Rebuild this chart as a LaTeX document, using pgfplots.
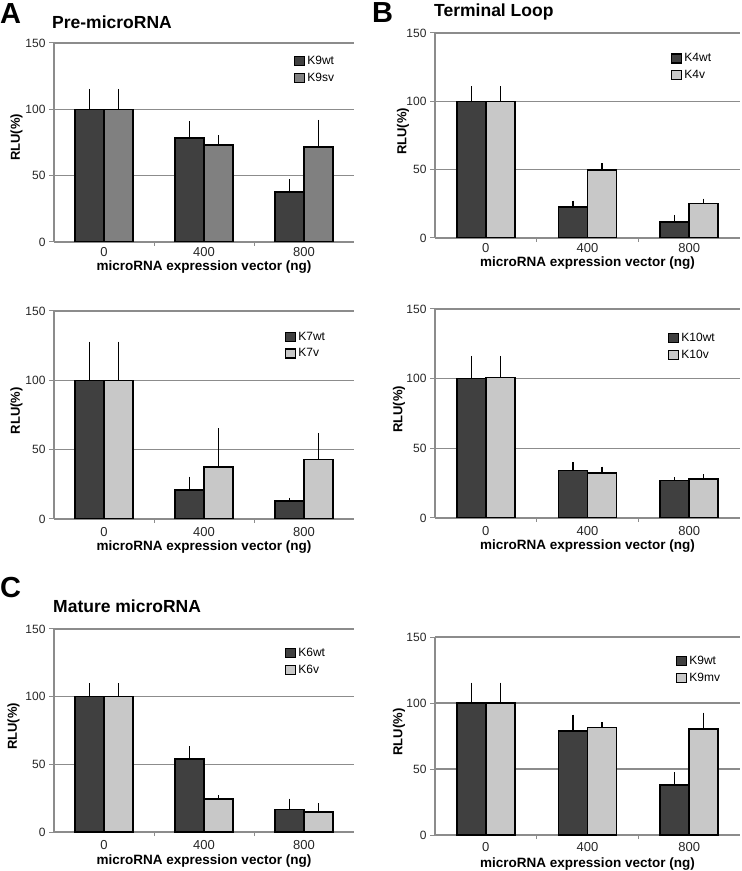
\documentclass[border=0pt]{standalone}
\usepackage{pgfplots}
\pgfplotsset{compat=1.18}
\usepackage{fontspec}
\setmainfont{Liberation Sans}
\definecolor{dk}{HTML}{404040}
\definecolor{md}{HTML}{808080}
\definecolor{lt}{HTML}{C8C8C8}
\definecolor{gr}{HTML}{8C8C8C}
\pgfplotsset{
 panel/.style={
  scale only axis,
  xmin=-0.5, xmax=2.5, ymin=0, ymax=150,
  ybar=0pt, bar width=29pt,
  xtick={0,1,2}, xticklabels={0,400,800},
  minor xtick={0.5,1.5},
  ytick={0,50,100,150},
  ymajorgrids, grid style={gr, line width=1.3pt},
  axis x line*=bottom, axis y line*=left,
  axis line style={gr, line width=1.3pt, -},
  tick align=outside, major tick length=5pt, minor tick length=4pt,
  major x tick style={draw=none},
  tick style={gr, line width=1pt},
  /pgf/number format/assume math mode=true,
  yticklabel style={font=\fontsize{12}{14}\selectfont, text=black!85},
  xticklabel style={font=\fontsize{13}{15}\selectfont, text=black!85, anchor=center},
  xlabel={microRNA expression vector (ng)},
  ylabel={RLU(\%)},
  xlabel style={font=\bfseries\fontsize{13.5}{15}\selectfont, at={(axis description cs:0.5,0)}, anchor=center},
  ylabel style={font=\bfseries\fontsize{13}{15}\selectfont, anchor=center},
  legend style={draw=none, fill=none, font=\fontsize{12}{14}\selectfont, anchor=north west, inner sep=0pt, row sep=3pt, legend cell align=left},
  legend image code/.code={\draw[#1, line width=1.2pt] (0pt,-4.5pt) rectangle (10pt,4.5pt);},
  error bars/y dir=plus, error bars/y explicit,
  error bars/error bar style={black, line width=1.3pt},
  error bars/error mark options={black, line width=1.3pt, mark size=2pt},
  every axis plot/.append style={draw=black, line width=1.6pt},
 }
}
\begin{document}
\begin{tikzpicture}[x=1pt,y=1pt]
\useasboundingbox (0,0) rectangle (742,871);
% Titles and panel letters
\node[anchor=base west, inner sep=0pt, font=\bfseries\fontsize{29}{32}\selectfont] at (0,847) {A};
\node[anchor=base west, inner sep=0pt, font=\bfseries\fontsize{29}{32}\selectfont] at (372,848) {B};
\node[anchor=base west, inner sep=0pt, font=\bfseries\fontsize{29}{32}\selectfont] at (0,273) {C};
\node[anchor=base west, inner sep=0pt, font=\bfseries\fontsize{17.5}{20}\selectfont] at (52,842) {Pre-microRNA};
\node[anchor=base west, inner sep=0pt, font=\bfseries\fontsize{17.5}{20}\selectfont] at (434,854) {Terminal Loop};
\node[anchor=base west, inner sep=0pt, font=\bfseries\fontsize{17.5}{20}\selectfont] at (53,258) {Mature microRNA};

% Panel A: K9wt / K9sv
\begin{axis}[panel, at={(54pt,629pt)}, anchor=south west, width=300pt, height=199pt,
  xticklabel style={yshift=-5pt},
  xlabel style={yshift=-25pt}, ylabel style={at={(axis description cs:-0.125,0.525)}},
  legend style={at={(rel axis cs:0.80,0.945)}}]
\addplot[fill=dk] table[x=x,y=y,y error=e] {
x y e
0 100 14
1 78.5 11
2 37.8 8
};
\addplot[fill=md] table[x=x,y=y,y error=e] {
x y e
0 100 14
1 73.3 5.8
2 71.8 18.7
};
\legend{K9wt,K9sv}
\end{axis}

% Panel A2: K7wt / K7v
\begin{axis}[panel, at={(54pt,352pt)}, anchor=south west, width=300pt, height=208pt,
  xticklabel style={yshift=-8pt},
  xlabel style={yshift=-28.5pt}, ylabel style={at={(axis description cs:-0.125,0.52)}},
  legend style={at={(rel axis cs:0.77,0.91)}}]
\addplot[fill=dk] table[x=x,y=y,y error=e] {
x y e
0 100 26.4
1 20.7 8.4
2 13 0.9
};
\addplot[fill=lt] table[x=x,y=y,y error=e] {
x y e
0 100 26.4
1 37.5 26.4
2 43 17.6
};
\legend{K7wt,K7v}
\end{axis}

% Panel C: K6wt / K6v
\begin{axis}[panel, at={(54pt,39pt)}, anchor=south west, width=300pt, height=203pt,
  xticklabel style={yshift=-8.5pt},
  xlabel style={yshift=-29.5pt}, ylabel style={at={(axis description cs:-0.135,0.52)}},
  legend style={at={(rel axis cs:0.77,0.915)}}]
\addplot[fill=dk] table[x=x,y=y,y error=e] {
x y e
0 100 8.6
1 54 7.9
2 16.5 6.7
};
\addplot[fill=lt] table[x=x,y=y,y error=e] {
x y e
0 100 8.6
1 24.4 1.3
2 14.6 5.1
};
\legend{K6wt,K6v}
\end{axis}

% Panel B: K4wt / K4v
\begin{axis}[panel, at={(435pt,633pt)}, anchor=south west, width=305pt, height=205pt,
  xticklabel style={yshift=-5pt},
  xlabel style={yshift=-25.5pt}, ylabel style={at={(axis description cs:-0.105,0.52)}},
  legend style={at={(rel axis cs:0.774,0.91)}}]
\addplot[fill=dk] table[x=x,y=y,y error=e] {
x y e
0 100 9.4
1 22.8 3.1
2 11.7 3.7
};
\addplot[fill=lt] table[x=x,y=y,y error=e] {
x y e
0 100 9.4
1 49.9 3.2
2 25.2 2.2
};
\legend{K4wt,K4v}
\end{axis}

% Panel B2: K10wt / K10v
\begin{axis}[panel, at={(435pt,353pt)}, anchor=south west, width=305pt, height=209pt,
  xticklabel style={yshift=-8pt},
  xlabel style={yshift=-28pt}, ylabel style={at={(axis description cs:-0.118,0.52)}},
  legend style={at={(rel axis cs:0.764,0.895)}}]
\addplot[fill=dk] table[x=x,y=y,y error=e] {
x y e
0 100 15
1 34.2 4.3
2 26.8 1.0
};
\addplot[fill=lt] table[x=x,y=y,y error=e] {
x y e
0 100.7 14.3
1 32.5 2.9
2 28 2.1
};
\legend{K10wt,K10v}
\end{axis}

% Panel C2: K9wt / K9mv
\begin{axis}[panel, at={(435pt,36pt)}, anchor=south west, width=305pt, height=198pt,
  xticklabel style={yshift=-7pt},
  xlabel style={yshift=-29pt}, ylabel style={at={(axis description cs:-0.118,0.52)}},
  legend style={at={(rel axis cs:0.79,0.915)}}]
\addplot[fill=dk] table[x=x,y=y,y error=e] {
x y e
0 100 14
1 78.8 10.8
2 38 8
};
\addplot[fill=lt] table[x=x,y=y,y error=e] {
x y e
0 100 14
1 81.3 2.5
2 80.5 10.6
};
\legend{K9wt,K9mv}
\end{axis}
\end{tikzpicture}
\end{document}
